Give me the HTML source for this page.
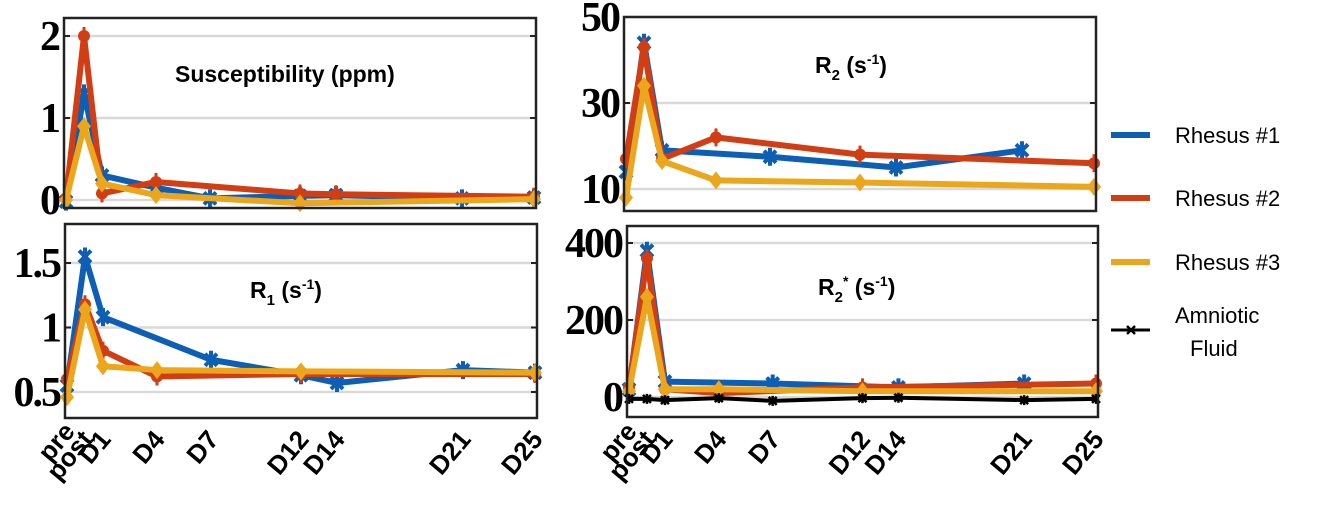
<!DOCTYPE html>
<html><head><meta charset="utf-8"><style>
html,body{margin:0;padding:0;background:#fff;width:1331px;height:507px;overflow:hidden}
svg{display:block}
</style></head><body>
<svg id="s" width="1331" height="507" xmlns="http://www.w3.org/2000/svg"></svg>
<script>
const s=document.getElementById('s');let h='';
const C={b:'#0c5fb5',r:'#d23e13',y:'#eba61c',k:'#000'};
const days=[-1,0,1,4,7,12,14,21,25];
const labs=['pre','post','D1','D4','D7','D12','D14','D21','D25'];
function panel(x0,x1,y0,y1,ticks,tmap,series,title,tx,ty,sub,sup){
  const X=d=>x0+2+(d+1)*(x1-x0-4)/26;
  h+=`<rect x="${x0}" y="${y0}" width="${x1-x0}" height="${y1-y0}" fill="#fff"/>`;
  ticks.forEach(t=>{const y=tmap(t);h+=`<line x1="${x0}" x2="${x1}" y1="${y}" y2="${y}" stroke="#d9d9d9" stroke-width="2.5"/><line x1="${x1-6}" x2="${x1}" y1="${y}" y2="${y}" stroke="#222" stroke-width="2"/><line x1="${x0}" x2="${x0+6}" y1="${y}" y2="${y}" stroke="#222" stroke-width="2"/><text x="${x0-5}" y="${y+14}" text-anchor="end" font-family="Liberation Serif,serif" font-weight="bold" font-size="42" letter-spacing="-2">${t}</text>`;});
  series.forEach(([c,vals])=>{
    let pts=[];vals.forEach((v,i)=>{if(v!==null)pts.push([X(days[i]),tmap(v)])});
    const w=c=='k'?4:6;
    h+=`<polyline points="${pts.map(p=>p.join(',')).join(' ')}" fill="none" stroke="${C[c]}" stroke-width="${w}" stroke-linejoin="round"/>`;
    pts.forEach(([x,y])=>{
      if(c=='y')h+=`<polygon points="${x},${y-9} ${x+7},${y} ${x},${y+9} ${x-7},${y}" fill="${C.y}"/>`;
      else if(c=='r')h+=`<circle cx="${x}" cy="${y}" r="6" fill="${C.r}"/><line x1="${x}" x2="${x}" y1="${y-9}" y2="${y+9}" stroke="${C.r}" stroke-width="3"/>`;
      else if(c=='b')h+=`<path d="M${x-6} ${y-6}L${x+6} ${y+6}M${x+6} ${y-6}L${x-6} ${y+6}M${x} ${y-9}V${y+9}" stroke="${C.b}" stroke-width="4"/>`;
      else h+=`<path d="M${x-4} ${y-4}L${x+4} ${y+4}M${x+4} ${y-4}L${x-4} ${y+4}M${x} ${y-5}V${y+5}" stroke="#000" stroke-width="2.5"/>`;
    });
  });
  h+=`<rect x="${x0}" y="${y0}" width="${x1-x0}" height="${y1-y0}" fill="none" stroke="#222" stroke-width="2.5"/>`;
  if(title) h+=`<text x="${tx}" y="${ty}" font-family="Liberation Sans,sans-serif" font-weight="bold" font-size="23">${title}${sub?`<tspan font-size="15" dy="7">${sub}</tspan>`:''}${sup?`<tspan font-size="14" dy="-16">${sup}</tspan>`:''}<tspan dy="${sub&&sup?9:(sub?-7:0)}"> (s</tspan><tspan font-size="14" dy="-9">-1</tspan><tspan dy="9">)</tspan></text>`;
  if(y1>400) labs.forEach((l,i)=>{const x=X(days[i]);const dy=i==0?-8:0;h+=`<text transform="translate(${x+9},${440+dy}) rotate(-50)" text-anchor="end" font-family="Liberation Sans,sans-serif" font-weight="bold" font-size="26">${l}</text>`;});
}
const n=null;
panel(64,536,18,208,[2,1,0],v=>200-82*v,[
 ['b',[-0.02,1.3,0.3,0.15,0.02,0.05,0.06,0.02,0.03]],
 ['r',[0.02,2.0,0.08,0.22,n,0.08,0.07,n,0.04]],
 ['y',[0,0.9,0.2,0.06,n,-0.04,n,n,0.01]]],'',0,0);
h+=`<text x="175" y="82" font-family="Liberation Sans,sans-serif" font-weight="bold" font-size="23">Susceptibility (ppm)</text>`;
panel(65,537,224,418,['1.5','1','0.5'],v=>392-129*(v-0.5),[
 ['b',[0.55,1.55,1.08,n,0.75,0.63,0.57,0.67,0.65]],
 ['r',[0.6,1.18,0.82,0.62,n,0.64,n,n,0.64]],
 ['y',[0.46,1.14,0.7,0.67,n,0.66,n,n,0.65]]],'R',250,298,'1','');
panel(624,1096,17,211,[50,30,10],v=>189-4.3*(v-10),[
 ['b',[14,44,19,n,17.5,n,15,19,n]],
 ['r',[17,43,17,22,n,18,n,n,16]],
 ['y',[8,34,16.5,12,n,11.5,n,n,10.5]]],'R',815,73,'2','');
panel(627,1098,226,417,[400,200,0],v=>397-0.385*v,[
 ['b',[20,380,40,n,35,n,25,35,n]],
 ['r',[25,360,20,10,n,25,n,n,35]],
 ['y',[15,260,20,20,n,15,n,n,15]],
 ['k',[-5,-5,-8,-3,-10,-3,-2,-8,-5]]],'R',818,295,'2','*');
[['b',135,'Rhesus #1'],['r',198,'Rhesus #2'],['y',262,'Rhesus #3']].forEach(([c,y,t])=>{
 h+=`<line x1="1111" x2="1150" y1="${y}" y2="${y}" stroke="${C[c]}" stroke-width="6"/><text x="1175" y="${y+8}" font-family="Liberation Sans,sans-serif" font-size="22">${t}</text>`;});
h+=`<line x1="1111" x2="1150" y1="330" y2="330" stroke="#000" stroke-width="3"/><path d="M1127 326L1135 334M1135 326L1127 334" stroke="#000" stroke-width="2.5"/><text x="1175" y="323" font-family="Liberation Sans,sans-serif" font-size="22">Amniotic</text><text x="1190" y="356" font-family="Liberation Sans,sans-serif" font-size="22">Fluid</text>`;
s.innerHTML=h;
</script>
</body></html>
